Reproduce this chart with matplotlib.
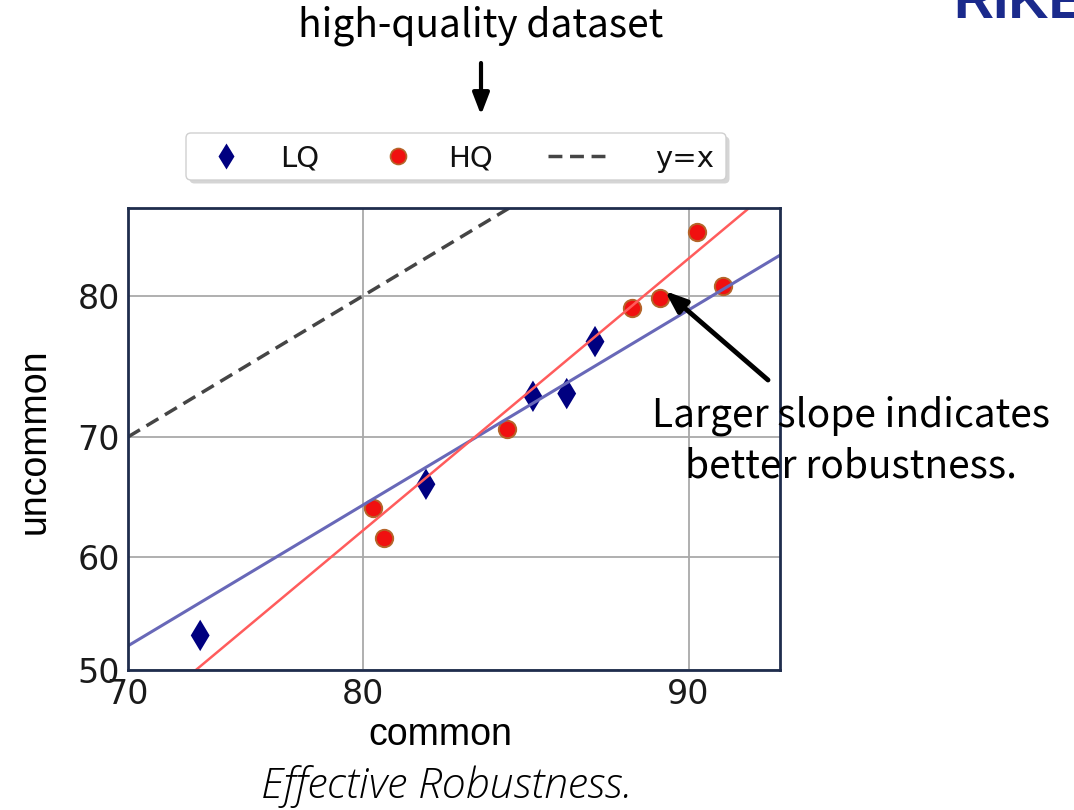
import math
import numpy as np
import matplotlib
matplotlib.use("Agg")
import matplotlib.pyplot as plt
from matplotlib.patches import FancyBboxPatch, FancyArrowPatch
from matplotlib.lines import Line2D
from matplotlib.ticker import FixedLocator, NullLocator, FuncFormatter

# accuracy (%) on common vs. uncommon test data
lq_common = [73.3, 82.3, 85.8, 86.8, 87.6]
lq_uncommon = [53.1, 66.2, 73.1, 73.3, 77.0]
hq_common = [80.4, 80.8, 85.0, 88.6, 89.3, 90.2, 90.8]
hq_uncommon = [64.2, 61.7, 70.6, 79.2, 79.9, 83.8, 80.6]

# linear fits in probit space: (slope, intercept)
lq_fit = [0.998, -0.469]
hq_fit = [1.391, -0.857]

x_ticks = [70, 80, 90]
y_ticks = [50, 60, 70, 80]
x_range = [70, 92.0]
y_range = [50, 85.07]
legend_labels = ["LQ", "HQ", "y=x"]


# ---- probit scale helpers -------------------------------------------------
_A = [-3.969683028665376e+01, 2.209460984245205e+02, -2.759285104469687e+02,
      1.383577518672690e+02, -3.066479806614716e+01, 2.506628277459239e+00]
_B = [-5.447609879822406e+01, 1.615858368580409e+02, -1.556989798598866e+02,
      6.680131188771972e+01, -1.328068155288572e+01]
_C = [-7.784894002430293e-03, -3.223964580411365e-01, -2.400758277161838e+00,
      -2.549671010405606e+00, 4.374664141464968e+00, 2.938163982698783e+00]
_D = [7.784695709041462e-03, 3.224671290700398e-01, 2.445134137142996e+00,
      3.754408661907416e+00]


def ndtri(p):
    p = np.atleast_1d(np.asarray(p, dtype=float))
    out = np.full(p.shape, np.nan)
    lo = p < 0.02425
    hi = p > 1 - 0.02425
    mid = ~(lo | hi) & np.isfinite(p)
    q = np.sqrt(-2 * np.log(p[lo]))
    out[lo] = (((((_C[0]*q+_C[1])*q+_C[2])*q+_C[3])*q+_C[4])*q+_C[5]) / \
              ((((_D[0]*q+_D[1])*q+_D[2])*q+_D[3])*q+1)
    q = np.sqrt(-2 * np.log(1 - p[hi]))
    out[hi] = -(((((_C[0]*q+_C[1])*q+_C[2])*q+_C[3])*q+_C[4])*q+_C[5]) / \
              ((((_D[0]*q+_D[1])*q+_D[2])*q+_D[3])*q+1)
    q = p[mid] - 0.5
    r = q * q
    out[mid] = (((((_A[0]*r+_A[1])*r+_A[2])*r+_A[3])*r+_A[4])*r+_A[5])*q / \
               (((((_B[0]*r+_B[1])*r+_B[2])*r+_B[3])*r+_B[4])*r+1)
    return out


_erf = np.vectorize(math.erf, otypes=[float])


def ncdf(z):
    z = np.atleast_1d(np.asarray(z, dtype=float))
    return 0.5 * (1 + _erf(z / math.sqrt(2)))


def to_probit(v):
    v = np.asarray(v, dtype=float)
    return ndtri(np.clip(v / 100.0, 1e-9, 1 - 1e-9)).reshape(v.shape)


def from_probit(z):
    z = np.asarray(z, dtype=float)
    return (100.0 * ncdf(z)).reshape(z.shape)


# ---- figure ---------------------------------------------------------------
W, H = 1074, 810
fig = plt.figure(figsize=(W / 100, H / 100), dpi=100)
fig.patch.set_facecolor("white")
ax = fig.add_axes([128 / W, 1 - 670 / H, 652 / W, 462 / H])


def px(x, y):
    """pixel position (origin top-left) -> inches for dpi_scale_trans"""
    return (x / 100.0, (H - y) / 100.0)


ax.set_xscale("function", functions=(to_probit, from_probit))
ax.set_yscale("function", functions=(to_probit, from_probit))
ax.set_xlim(*x_range)
ax.set_ylim(*y_range)

navy = "#000080"
ax.scatter(lq_common, lq_uncommon, marker="d", s=16 ** 2, color=navy,
           edgecolors="none", zorder=3)
ax.scatter(hq_common, hq_uncommon, marker="o", s=12.5 ** 2, color="#f01010",
           edgecolors="#b5652a", linewidths=1.4, zorder=3)

zx = np.linspace(to_probit(x_range[0]), to_probit(x_range[1]), 60)
xs = from_probit(zx)
ax.plot(xs, from_probit(lq_fit[0] * zx + lq_fit[1]), color="#6868b8",
        lw=2.2, zorder=4)
ax.plot(xs, from_probit(hq_fit[0] * zx + hq_fit[1]), color="#ff5c5c",
        lw=1.8, zorder=4)
ax.plot(x_range, x_range, color="#454545", lw=2.5, dashes=(4, 2.2), zorder=4)

for axis, ticks in ((ax.xaxis, x_ticks), (ax.yaxis, y_ticks)):
    axis.set_major_locator(FixedLocator(ticks))
    axis.set_minor_locator(NullLocator())
    axis.set_major_formatter(FuncFormatter(lambda v, _: f"{v:.0f}"))

ax.tick_params(length=0, pad=6, labelsize=24, labelcolor="#1a1a1a")
for lab in ax.get_xticklabels() + ax.get_yticklabels():
    lab.set_fontfamily("DejaVu Sans")
ax.grid(True, color="#a9a9a9", lw=1.3, zorder=0)
ax.set_axisbelow(True)
for sp in ax.spines.values():
    sp.set_color("#1f2d4d")
    sp.set_linewidth(2.0)
    sp.set_zorder(5)

ax.set_xlabel("common", fontsize=27, family="Liberation Sans", va="center")
ax.xaxis.set_label_coords((440 - 128) / 652, (H - 735 - 140) / 462)
ax.set_ylabel("uncommon", fontsize=27, family="Liberation Sans", va="center")
ax.yaxis.set_label_coords((35 - 128) / 652, (H - 441 - 140) / 462)

# ---- legend row above the axes -------------------------------------------
tr = fig.dpi_scale_trans
x0, y0 = px(186, 180)
x1, y1 = px(726, 133)
shadow = FancyBboxPatch((x0 + 0.035, y0 - 0.035), x1 - x0, y1 - y0,
                        boxstyle="round,pad=0,rounding_size=0.05",
                        transform=tr, facecolor="#c4c4c4", edgecolor="none",
                        alpha=0.7, zorder=1)
box = FancyBboxPatch((x0, y0), x1 - x0, y1 - y0,
                     boxstyle="round,pad=0,rounding_size=0.05",
                     transform=tr, facecolor="white", edgecolor="#d0d0d0",
                     lw=1.0, zorder=2)
fig.add_artist(shadow)
fig.add_artist(box)

ly = 156
fig.add_artist(Line2D([px(226, ly)[0]], [px(226, ly)[1]], transform=tr,
                      marker="d", markersize=13, color=navy, mec="none",
                      ls="none", zorder=3))
fig.add_artist(Line2D([px(398, ly)[0]], [px(398, ly)[1]], transform=tr,
                      marker="o", markersize=11.5, color="#f01010",
                      mec="#b5652a", mew=1.2, ls="none", zorder=3))
fig.add_artist(Line2D([px(548, ly)[0], px(605, ly)[0]],
                      [px(548, ly)[1], px(605, ly)[1]], transform=tr,
                      color="#454545", lw=2.5, dashes=(4, 2.2), zorder=3))
for lx, lab in zip([280, 448, 655], legend_labels):
    fig.text(*px(lx, ly), lab, transform=tr, fontsize=21,
             family="DejaVu Sans", color="#111111", ha="left",
             va="center_baseline", zorder=3)

# ---- titles and annotations ---------------------------------------------
thin = dict(family=["Noto Sans CJK SC", "DejaVu Sans"], weight="light",
            color="black")
fig.text(*px(481, 37), "high-quality dataset", transform=tr, fontsize=28,
         ha="center", va="baseline", **thin)
fig.add_artist(FancyArrowPatch(px(481, 63), px(481, 115), transform=tr,
                               arrowstyle="-|>,head_length=13,head_width=5",
                               mutation_scale=1, lw=3, color="black",
                               shrinkA=0, shrinkB=0))

fig.text(*px(851, 427), "Larger slope indicates", transform=tr, fontsize=28,
         ha="center", va="baseline", **thin)
fig.text(*px(851, 477), "better robustness.", transform=tr, fontsize=28,
         ha="center", va="baseline", **thin)
fig.add_artist(FancyArrowPatch(px(768, 380), px(665, 291), transform=tr,
                               arrowstyle="-|>,head_length=13,head_width=5",
                               mutation_scale=1, lw=3.5, color="black",
                               shrinkA=0, shrinkB=0, zorder=6))

fig.text(*px(447, 798), "Effective Robustness.", transform=tr, fontsize=31,
         ha="center", va="baseline", family=["Open Sans", "DejaVu Sans"],
         weight="light", style="italic", color="black")

# institute wordmark, clipped at the top edge
fig.text(*px(953, 18), "RIKEN", transform=tr, fontsize=40,
         family="Liberation Sans", weight="bold", color="#1a2a8c",
         ha="left", va="baseline")

fig.savefig("out.png", dpi=100)
